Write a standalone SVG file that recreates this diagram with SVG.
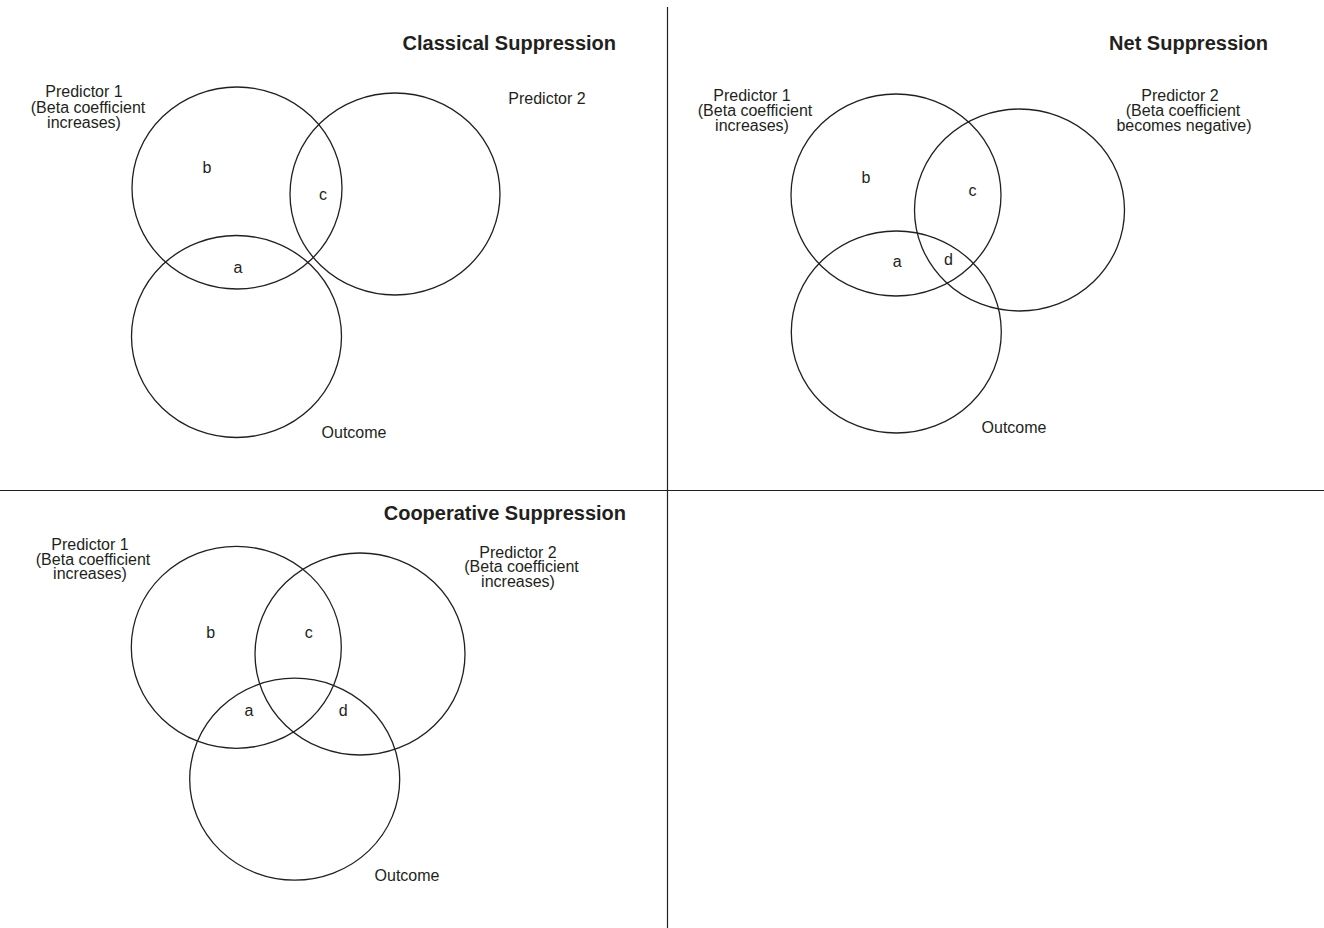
<svg xmlns="http://www.w3.org/2000/svg" width="1324" height="928" viewBox="0 0 1324 928">
<style>
.c{fill:none;stroke:#231f20;stroke-width:1.3}
.d{stroke:#231f20;stroke-width:1.2}
text{font-family:"Liberation Sans",Arial,sans-serif;fill:#231f20}
.t{font-size:20px;font-weight:bold;text-anchor:end}
.l{font-size:16px;text-anchor:middle}
</style>
<rect width="1324" height="928" fill="#ffffff"/>
<g id="dividers">
<line class="d" x1="667.5" y1="7" x2="667.5" y2="928"/>
<line class="d" x1="0" y1="490.5" x2="1324" y2="490.5"/>
</g>
<g id="classical">
<text class="t" x="616" y="50">Classical Suppression</text>
<g id="classical-p1">
<ellipse class="c" cx="237" cy="188" rx="105" ry="101"/>
<text class="l" x="84" y="97">Predictor 1</text>
<text class="l" x="88" y="113">(Beta coefficient</text>
<text class="l" x="84" y="128">increases)</text>
</g>
<g id="classical-p2">
<ellipse class="c" cx="395" cy="194" rx="105" ry="101"/>
<text class="l" x="547" y="104">Predictor 2</text>
</g>
<g id="classical-outcome">
<ellipse class="c" cx="236.5" cy="336.5" rx="105" ry="101"/>
<text class="l" x="354" y="438">Outcome</text>
</g>
<text class="l" x="207" y="173">b</text>
<text class="l" x="323" y="200">c</text>
<text class="l" x="238" y="273">a</text>
</g>
<g id="net">
<text class="t" x="1268" y="50">Net Suppression</text>
<g id="net-p1">
<ellipse class="c" cx="896" cy="195" rx="105" ry="101"/>
<text class="l" x="752" y="101">Predictor 1</text>
<text class="l" x="755" y="116">(Beta coefficient</text>
<text class="l" x="752" y="131">increases)</text>
</g>
<g id="net-p2">
<ellipse class="c" cx="1019.5" cy="210" rx="105" ry="101"/>
<text class="l" x="1180" y="101">Predictor 2</text>
<text class="l" x="1183" y="116">(Beta coefficient</text>
<text class="l" x="1184" y="131">becomes negative)</text>
</g>
<g id="net-outcome">
<ellipse class="c" cx="896.3" cy="332" rx="105" ry="101"/>
<text class="l" x="1014" y="433">Outcome</text>
</g>
<text class="l" x="866" y="183">b</text>
<text class="l" x="972.5" y="196">c</text>
<text class="l" x="897.3" y="267">a</text>
<text class="l" x="948.5" y="264.5">d</text>
</g>
<g id="cooperative">
<text class="t" x="626" y="520">Cooperative Suppression</text>
<g id="coop-p1">
<ellipse class="c" cx="236.3" cy="647.3" rx="105" ry="101"/>
<text class="l" x="90" y="550">Predictor 1</text>
<text class="l" x="93" y="564.5">(Beta coefficient</text>
<text class="l" x="90" y="579">increases)</text>
</g>
<g id="coop-p2">
<ellipse class="c" cx="360" cy="654" rx="105" ry="101"/>
<text class="l" x="518" y="557.5">Predictor 2</text>
<text class="l" x="521.5" y="572">(Beta coefficient</text>
<text class="l" x="518" y="586.5">increases)</text>
</g>
<g id="coop-outcome">
<ellipse class="c" cx="294.7" cy="779.2" rx="105" ry="101"/>
<text class="l" x="407" y="881">Outcome</text>
</g>
<text class="l" x="210.7" y="637.5">b</text>
<text class="l" x="308.7" y="637.5">c</text>
<text class="l" x="249" y="716">a</text>
<text class="l" x="343.3" y="716">d</text>
</g>
</svg>
